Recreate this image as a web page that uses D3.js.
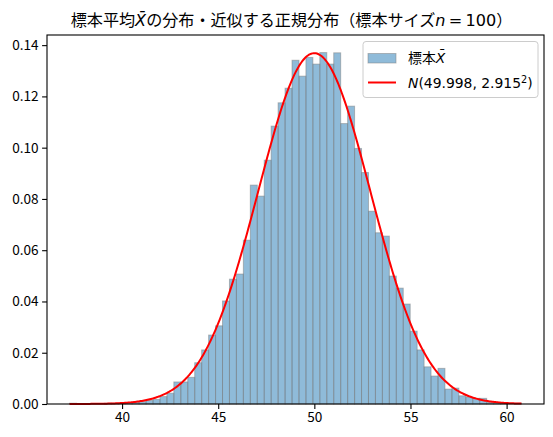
<!DOCTYPE html>
<html><head><meta charset="utf-8">
<script src="https://cdn.jsdelivr.net/npm/d3@7"></script>
<style>body{margin:0;background:#fff}svg{display:block}</style>
</head><body>
<svg id="c" width="553" height="437"></svg>
<script>
// ---- data ----
const dataMin = 37.27, dataMax = 60.77;   // sample range (histogram & curve span)
const nBins = 65;
const density = [
 0.0003,0,0,0,0,0.0003,0.0003,0.0003,0.0006,0.0007,
 0.0009,0.0014,0.0018,0.0029,0.0042,0.0086,0.0086,0.0104,0.0161,0.0211,
 0.0269,0.0305,0.0402,0.0487,0.0507,0.0639,0.0854,0.0811,0.0951,0.1084,
 0.1175,0.1232,0.1341,0.1279,0.1352,0.1326,0.1371,0.1326,0.1370,0.1094,
 0.1162,0.0997,0.0903,0.0752,0.0668,0.0655,0.0499,0.0452,0.0390,0.0284,
 0.0211,0.0145,0.0109,0.0139,0.0058,0.0062,0.0032,0.0027,0.0022,0.0022,
 0.0006,0.0003,0.0003,0,0.0003];
const mu = [49.998], sigma = [2.915];
const xTicks = [40,45,50,55,60];
const yTicks = [0,0.02,0.04,0.06,0.08,0.10,0.12,0.14];

// ---- layout ----
const L=47,R=544,T=35,B=404;
const svg=d3.select("#c");
const span=dataMax-dataMin;
const x=d3.scaleLinear().domain([dataMin-0.05*span,dataMax+0.05*span]).range([L,R]);
const binW=span/nBins;
const bins=density.map((d,i)=>({x0:dataMin+i*binW,x1:dataMin+(i+1)*binW,d}));
const pdf=v=>Math.exp(-0.5*((v-mu[0])/sigma[0])**2)/(sigma[0]*Math.sqrt(2*Math.PI));
const curve=d3.range(0,401).map(i=>{const v=dataMin+span*i/400;return [v,pdf(v)];});
const yMax=Math.max(d3.max(density),d3.max(curve,c=>c[1]))*1.05;
const y=d3.scaleLinear().domain([0,yMax]).range([B,T]);

// bars
svg.append("g").selectAll("rect").data(bins.filter(b=>b.d>0)).join("rect")
 .attr("x",b=>x(b.x0)).attr("width",b=>x(b.x1)-x(b.x0))
 .attr("y",b=>y(b.d)).attr("height",b=>y(0)-y(b.d))
 .attr("fill","rgb(31,119,180)").attr("fill-opacity",0.5)
 .attr("stroke","rgb(128,128,128)").attr("stroke-opacity",0.5).attr("stroke-width",1);

// curve
svg.append("path").datum(curve)
 .attr("d",d3.line().x(c=>x(c[0])).y(c=>y(c[1])))
 .attr("fill","none").attr("stroke","#ff0000").attr("stroke-width",2);

// axes
const font="'Noto Sans CJK JP','Noto Sans',sans-serif";
const gx=svg.append("g").attr("transform",`translate(0,${B})`)
 .call(d3.axisBottom(x).tickValues(xTicks).tickFormat(d3.format("d")).tickSize(4.9).tickPadding(3.5).tickSizeOuter(0));
const gy=svg.append("g").attr("transform",`translate(${L},0)`)
 .call(d3.axisLeft(y).tickValues(yTicks).tickFormat(d3.format(".2f")).tickSize(4.9).tickPadding(3.5).tickSizeOuter(0));
[gx,gy].forEach(g=>{g.select(".domain").remove();
 g.selectAll("line").attr("stroke","#000").attr("stroke-width",1.1);
 g.selectAll("text").attr("fill","#000").style("font-family",font).style("font-size","13.6px");});
svg.append("rect").attr("x",L).attr("y",T).attr("width",R-L).attr("height",B-T)
 .attr("fill","none").attr("stroke","#000").attr("stroke-width",1.1);

// title
const title=svg.append("text").attr("x",(L+R)/2-4).attr("y",26).attr("text-anchor","middle")
 .style("font-size","16.1px").style("font-family",font).attr("fill","#000");
title.append("tspan").text("標本平均");
title.append("tspan").style("font-family","'DejaVu Sans'").style("font-style","italic").text("X\u0304");
title.append("tspan").text("の分布・近似する正規分布（標本サイズ");
title.append("tspan").style("font-family","'DejaVu Sans'").style("font-style","italic").text("n");
title.append("tspan").style("font-family","'DejaVu Sans'").text("\u2009=\u2009100");
title.append("tspan").text("）");

// legend
const lg=svg.append("g");
lg.append("rect").attr("x",363).attr("y",41.5).attr("width",175).attr("height",56).attr("rx",3)
 .attr("fill","#fff").attr("fill-opacity",0.8).attr("stroke","#cccccc").attr("stroke-width",1);
lg.append("rect").attr("x",368).attr("y",53.5).attr("width",28).attr("height",9.5)
 .attr("fill","rgb(31,119,180)").attr("fill-opacity",0.5)
 .attr("stroke","rgb(128,128,128)").attr("stroke-opacity",0.5);
lg.append("line").attr("x1",368).attr("x2",396).attr("y1",82.5).attr("y2",82.5)
 .attr("stroke","#ff0000").attr("stroke-width",2);
const t1=lg.append("text").attr("x",408).attr("y",63).style("font-size","13.9px").style("font-family",font);
t1.append("tspan").text("標本");
t1.append("tspan").style("font-family","'DejaVu Sans'").style("font-style","italic").text("X\u0304");
const t2=lg.append("text").attr("x",408).attr("y",87.5).style("font-size","13.9px").style("font-family","'DejaVu Sans'");
t2.append("tspan").style("font-style","italic").text("N");
t2.append("tspan").text(`(${mu[0]}, ${sigma[0]}`);
t2.append("tspan").attr("dy",-5).style("font-size","9.7px").text("2");
t2.append("tspan").attr("dy",5).text(")");
</script>
</body></html>
